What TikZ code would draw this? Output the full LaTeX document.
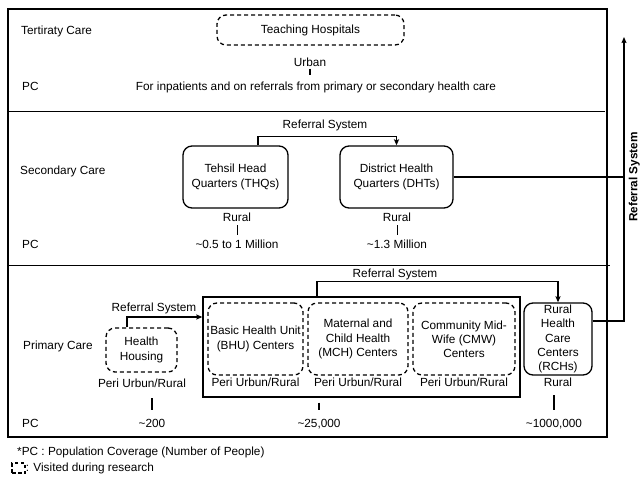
\documentclass[tikz,border=0pt]{standalone}
\usepackage{fontspec}
\setmainfont{Liberation Sans}
\usetikzlibrary{arrows.meta,calc}
\tikzset{
  txt/.style={font=\fontsize{11.8}{14}\selectfont, inner sep=0pt, text height=8.5pt, text depth=2.5pt},
  lbl/.style={txt, anchor=west},
  boxtxt/.style={font=\fontsize{11.8}{14.2}\selectfont, align=center, inner sep=0pt},
  solidbox/.style={boxtxt, draw, line width=1.3pt, rounded corners=9pt},
  visitbox/.style={boxtxt, draw, line width=1.3pt, rounded corners=9pt, dash pattern=on 4pt off 3pt},
  conn/.style={line width=1.2pt, -{Stealth[length=6pt,width=5pt,inset=1pt]}},
  plainline/.style={line width=1.2pt},
  tick/.style={line width=1.4pt},
  sep/.style={line width=0.9pt},
}
\begin{document}
\begin{tikzpicture}[x=1pt,y=-1pt]
\useasboundingbox (0,0) rectangle (640,485);
% frame and separators
\draw[line width=1.5pt] (8,9) rectangle (607,437);
\draw[sep] (8,111) -- (605,111);
\draw[sep] (8,265) -- (610,265);

% ---------- Tertiary ----------
\node[lbl] (tcare) at (21,31) {Tertiraty Care};
\node[lbl] (tpc) at (22,87) {PC};
\node[visitbox, minimum width=187pt, minimum height=30pt] (TH) at (310.5,30) {Teaching Hospitals};
\node[txt] (urban) at (310,63) {Urban};
\node[txt] (tfor) at (316,87) {For inpatients and on referrals from primary or secondary health care};
\draw[tick, shorten >=6.5pt] (urban.south) -- (urban.south |- tfor.north);

% ---------- Secondary ----------
\node[lbl] (scare) at (20,171) {Secondary Care};
\node[lbl] (spc) at (22,245) {PC};
\node[solidbox, minimum width=105pt, minimum height=62pt] (THQ) at (235.5,177) {Tehsil Head\\Quarters (THQs)};
\node[solidbox, minimum width=113pt, minimum height=62pt] (DHT) at (396.5,177) {District Health\\Quarters (DHTs)};
\node[txt] (r1) at (237,218) {Rural};
\node[txt] (v1) at (237,245) {\textasciitilde 0.5 to 1 Million};
\node[txt] (r2) at (397,218) {Rural};
\node[txt] (v2) at (397,245) {\textasciitilde 1.3 Million};
\draw[tick, line width=0.9pt, shorten <=1.5pt, shorten >=4.5pt] (r1.south) -- (v1.north);
\draw[tick, line width=0.9pt, shorten <=1.5pt, shorten >=4.5pt] (r2.south) -- (v2.north);
\node[txt] (ref2) at (325,125) {Referral System};
\draw[conn] ([xshift=22.5pt]THQ.north) -- ++(0,-9) -| (DHT.north);

% ---------- Primary ----------
\node[lbl] (pcare) at (23,346) {Primary Care};
\node[lbl] (ppc) at (22,424) {PC};
\node[draw, line width=1.4pt, minimum width=317pt, minimum height=100pt, inner sep=0pt] (big) at (361.5,347) {};
\node[visitbox, minimum width=71pt, minimum height=44pt] (HH) at (141.5,350) {Health\\Housing};
\node[visitbox, minimum width=95pt, minimum height=72pt] (BHU) at (255.5,339) {Basic Health Unit\\(BHU) Centers};
\node[visitbox, minimum width=100pt, minimum height=72pt] (MCH) at (358,339) {Maternal and\\Child Health\\(MCH) Centers};
\node[visitbox, minimum width=102pt, minimum height=72pt] (CMW) at (464,339) {Community Mid-\\Wife (CMW)\\Centers};
\node[solidbox, minimum width=68pt, minimum height=72pt, inner sep=0pt] (RHC) at (558,339) {Rural\\Health\\Care\\Centers\\(RCHs)};
\node[txt] (hhl) at (142,384) {Peri Urbun/Rural};
\node[txt] (bhul) at (255.5,383) {Peri Urbun/Rural};
\node[txt] (mchl) at (358,383) {Peri Urbun/Rural};
\node[txt] (cmwl) at (464,383) {Peri Urbun/Rural};
\node[txt] (rhcl) at (558,383) {Rural};
\node[txt] (v200) at (152,424) {\textasciitilde 200};
\node[txt] (v25) at (319,424) {\textasciitilde 25,000};
\node[txt] (v1m) at (554,424) {\textasciitilde 1000,000};
\draw[tick, shorten <=8.5pt, shorten >=8.5pt] (v200.north |- hhl.south) -- (v200.north);
\draw[tick, shorten <=5pt, shorten >=8.5pt] (v25.north |- big.south) -- (v25.north);
\draw[tick, shorten <=6.5pt, shorten >=8.5pt] (v1m.north |- rhcl.south) -- (v1m.north);
\node[txt] (ref1) at (154,308) {Referral System};
\draw[conn] ([xshift=-14.5pt]HH.north) |- ([yshift=30pt]big.west);
\node[txt] (ref3) at (395,274) {Referral System};
\draw[conn] ([xshift=-44.5pt]big.north) -- ++(0,-15) -| (RHC.north);

% ---------- Upward referral ----------
\coordinate (top) at (624,37);
\draw[conn] ([yshift=18pt]RHC.east) -| (top);
\draw[plainline] (DHT.east) -- (DHT.east -| top);
\node[font=\bfseries\fontsize{11.8}{14}\selectfont, rotate=90, inner sep=0pt, text height=8.6pt, text depth=2.5pt] (refv) at (634.2,177) {Referral System};

% ---------- Legend ----------
\node[lbl] (note) at (17,452) {*PC : Population Coverage (Number of People)};
\node[draw, line width=1.2pt, dash pattern=on 3.5pt off 2.5pt, minimum width=13pt, minimum height=10pt, inner sep=0pt] (legbox) at (18.5,468) {};
\node[lbl] (legtxt) at (legbox.east) {: Visited during research};
\end{tikzpicture}
\end{document}
